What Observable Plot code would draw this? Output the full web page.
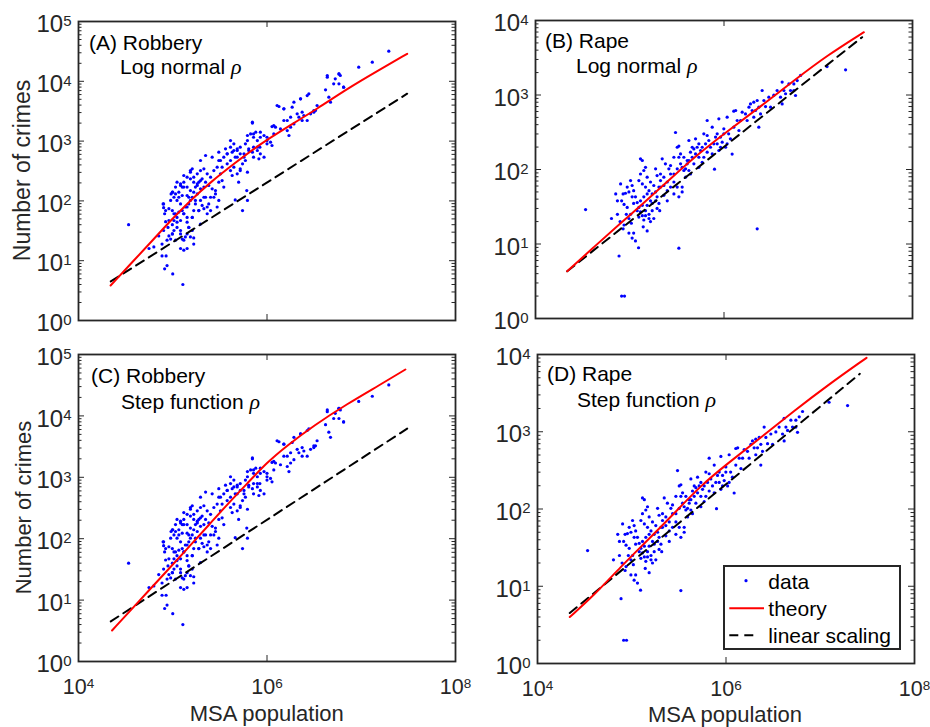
<!DOCTYPE html>
<html><head><meta charset="utf-8">
<script src="https://cdn.jsdelivr.net/npm/d3@7"></script>
<script src="https://cdn.jsdelivr.net/npm/@observablehq/plot@0.6"></script>
<style>
body{margin:0;background:#fff;}
#root{position:relative;width:930px;height:727px;overflow:hidden;}
.panel{position:absolute;}
</style></head><body><div id="root"></div>
<script>
// ---------- data ----------
const robberyPop = [3.4e4,5.6e4,6.3e4,7.1e4,8.0e4,7.9e4,8.0e4,8.2e4,8.4e4,7.7e4,8.5e4,8.7e4,8.2e4,1.0e5,1.28e5,9.1e4,9.5e4,9.9e4,1.03e5,9.9e4,8.9e4,1.21e5,1.31e5,1.26e5,1.36e5,1.42e5,1.67e5,1.61e5,1.48e5,1.21e5,1.11e5,1.03e5,1.11e5,1.21e5,1.31e5,1.42e5,1.26e5,1.16e5,1.07e5,9.9e4,9.5e4,1.03e5,1.11e5,1.21e5,1.36e5,1.48e5,1.54e5,1.61e5,1.42e5,1.26e5,1.16e5,1.0e5,9.6e4,1.07e5,1.21e5,1.31e5,1.42e5,1.54e5,1.67e5,1.82e5,1.97e5,2.05e5,2.14e5,2.32e5,2.41e5,2.23e5,1.97e5,1.82e5,1.67e5,1.54e5,1.42e5,1.31e5,1.54e5,1.61e5,1.74e5,1.89e5,2.05e5,2.23e5,2.41e5,2.62e5,2.73e5,2.96e5,3.08e5,2.84e5,2.52e5,2.32e5,2.14e5,1.97e5,1.82e5,2.73e5,2.96e5,3.21e5,3.34e5,3.48e5,3.08e5,3.21e5,3.48e5,3.78e5,4.10e5,4.27e5,4.45e5,4.83e5,5.0e5,5.2e5,5.5e5,4.6e5,4.27e5,3.78e5,3.63e5,4.10e5,4.45e5,4.83e5,5.2e5,5.7e5,5.9e5,6.2e5,6.1e5,6.2e5,5.5e5,4.6e5,4.83e5,5.2e5,5.9e5,6.4e5,7.0e5,7.2e5,7.9e5,8.2e5,8.5e5,8.4e5,7.9e5,7.2e5,6.7e5,6.2e5,7.0e5,7.6e5,8.5e5,9.3e5,1.0e6,1.09e6,1.13e6,1.18e6,1.23e6,1.13e6,1.34e6,1.51e6,1.39e6,1.64e6,1.71e6,1.78e6,1.93e6,1.93e6,2.09e6,2.18e6,2.27e6,2.36e6,2.46e6,2.67e6,2.67e6,2.90e6,3.14e6,3.27e6,4.18e6,4.36e6,4.53e6,4.72e6,5.3e6,5.8e6,6.0e6,5.8e6,6.5e6,9.4e6,1.31e7,1.96e7,1.97e5,2.62e5,3.08e5,2.23e5,9.1e4,1.11e5,1.26e5,1.48e5,1.74e5,1.89e5,1.61e5,1.42e5,1.67e5,2.14e5,2.52e5,4.10e5,7.2e5,1.0e6,1.51e6,1.78e6,3.40e6,
  8.0e4,8.4e4,9.9e4,1.07e5,1.16e5,1.21e5,1.31e5,1.54e5,1.67e5,1.82e5,1.97e5,2.14e5,2.32e5,2.52e5,2.84e5,3.08e5,3.34e5,3.78e5,4.10e5,4.45e5,4.83e5,5.2e5,5.7e5,6.2e5,6.4e5,7.0e5,7.2e5,7.9e5,8.5e5,9.3e5,1.0e6,1.18e6,1.28e6,1.51e6,1.64e6,1.85e6,2.27e6,2.36e6,2.78e6,3.14e6,4.36e6,5.1e6,5.8e6,6.5e6,
  9.1e4,1.03e5,1.11e5,1.31e5,1.42e5,1.48e5,1.61e5,1.74e5,1.89e5,1.97e5,1.21e5,1.07e5,9.9e4,1.31e5,1.54e5,8.7e4,7.7e4,1.42e5,1.67e5];
const robberyCount = [40,16,17,26,32,89,77,61,45,12,12,8.3,7.3,6.0,4.0,26,23,28,32,40,36,16,15,23,25,28,24,32,36,32,36,47,53,47,61,53,69,65,61,69,102,115,102,89,79,89,102,115,123,123,140,140,131,170,181,206,170,149,140,131,102,84,74,61,89,115,159,181,206,234,249,266,302,344,170,206,234,206,181,159,115,79,102,131,249,284,344,322,284,322,366,284,219,170,206,474,538,417,322,266,366,284,206,344,417,538,653,612,743,791,900,696,612,538,474,302,149,102,69,104,743,791,900,743,653,791,696,505,612,791,1020,1160,1320,1240,2000,1410,1410,1240,1160,959,844,1320,1710,1750,3790,3460,1600,1500,1240,1710,1940,4480,2860,2510,5090,2210,2680,2210,5780,2860,3050,3250,7200,11700,5430,4480,11000,13300,12500,9070,7980,17200,20900,31900,474,538,653,574,74,206,170,115,102,69,53,44,69,170,115,474,538,900,2210,2510,3940,
  89,69,140,131,115,193,170,322,249,193,219,115,79,69,149,474,366,612,1020,696,538,322,612,1020,696,2070,1320,792,1160,538,1020,1820,3940,3470,2210,3690,5090,3050,6170,3250,12500,9070,13300,7980,
  47,61,44,61,79,36,53,89,69,41,28,22,28,22,25,22,19,16,19];

const rapePop = [3.4e4,6.4e4,7.7e4,8.2e4,8.8e4,8.0e4,8.5e4,9.0e4,8.2e4,8.7e4,9.4e4,9.2e4,9.8e4,1.02e5,1.04e5,9.8e4,1.06e5,1.15e5,1.10e5,1.24e5,8.7e4,8.5e4,7.9e4,1.02e5,1.06e5,1.10e5,1.15e5,1.20e5,1.25e5,1.30e5,1.36e5,1.41e5,1.47e5,1.53e5,1.60e5,1.66e5,1.73e5,1.60e5,1.47e5,1.36e5,1.25e5,1.30e5,1.41e5,1.36e5,1.30e5,1.47e5,1.53e5,1.66e5,1.80e5,1.88e5,1.95e5,2.04e5,1.95e5,2.08e5,1.73e5,1.80e5,1.66e5,1.39e5,1.53e5,1.88e5,1.95e5,2.12e5,2.30e5,2.50e5,2.30e5,2.50e5,2.21e5,2.39e5,2.60e5,2.71e5,2.94e5,3.19e5,2.94e5,3.32e5,3.60e5,3.60e5,3.06e5,3.19e5,3.32e5,3.46e5,3.75e5,4.07e5,3.91e5,4.41e5,4.24e5,4.07e5,4.41e5,4.60e5,4.79e5,4.99e5,4.24e5,5.19e5,5.64e5,6.11e5,5.87e5,5.41e5,6.63e5,7.19e5,7.80e5,6.63e5,6.11e5,6.63e5,7.50e5,8.47e5,8.13e5,8.82e5,9.19e5,9.57e5,9.96e5,1.08e6,1.17e6,1.22e6,8.82e5,9.96e5,1.27e6,1.33e6,1.08e6,1.44e6,1.50e6,1.69e6,1.84e6,1.91e6,2.07e6,2.16e6,2.25e6,2.34e6,2.44e6,2.07e6,2.54e6,2.76e6,3.12e6,3.38e6,4.14e6,4.32e6,4.50e6,4.14e6,5.08e6,5.51e6,5.74e6,5.98e6,6.49e6,1.24e7,1.95e7,7.93e5,2.71e5,2.94e5,2.12e5,4.79e5,5.41e5,3.32e5,3.60e5,3.32e5,2.25e6,
  9.4e4,9.8e4,1.06e5,1.10e5,1.20e5,1.25e5,1.30e5,1.41e5,1.53e5,1.36e5,1.47e5,1.60e5,1.73e5,1.88e5,2.04e5,2.12e5,2.30e5,2.50e5,2.71e5,2.94e5,3.19e5,3.46e5,3.75e5,3.91e5,4.24e5,4.60e5,4.99e5,5.41e5,5.87e5,6.37e5,6.9e5,7.50e5,8.47e5,9.19e5,1.04e6,1.12e6,1.27e6,1.38e6,1.56e6,1.76e6,1.99e6,2.34e6,2.65e6,2.99e6,3.66e6,3.98e6,4.88e6,5.51e6,7.4e4,7.1e4,7.4e4];
const rapeCount = [29,22,6.9,2.0,2.0,64,47,48,38,34,31,25,22,25,19,14,12,11,14,8.9,18,16,20,71,61,52,43,36,31,27,24,21,28,33,25,38,47,52,58,64,71,87,97,132,139,107,79,68,61,50,43,35,30,28,28,22,20,17,15,102,83,71,61,52,45,38,139,119,102,87,68,58,47,43,50,58,314,199,206,162,146,119,102,87,97,132,171,146,119,258,245,199,180,146,125,107,171,199,221,286,301,455,370,301,272,180,199,233,301,221,258,161,479,351,607,619,504,334,455,558,687,760,801,619,844,370,558,504,1150,700,687,995,1490,1150,1040,760,1150,1410,984,1560,1830,2410,2180,101,113,146,58,189,221,146,107,8.8,16,
  58,50,43,35,28,23,38,43,47,33,24,22,35,38,58,87,79,68,58,87,102,119,97,79,132,199,162,146,199,221,245,162,221,272,199,301,370,455,588,455,619,687,844,935,1150,935,1410,1150,38,47,25];

// theory curves
const robLogNormalPop = [2.19e4,3.87e4,6.3e4,9.5e4,1.54e5,2.52e5,4.45e5,8.5e5,1.64e6,3.41e6,7.1e6,1.48e7,3.07e7];
const robLogNormalCrimes = [3.85,10.1,23,47,102,206,417,900,1710,3470,7490,14800,28800];
const robStepPop = [2.27e4,4.19e4,8.7e4,1.48e5,2.52e5,3.78e5,6.2e5,1.0e6,1.64e6,3.14e6,7.1e6,1.6e7,2.94e7];
const robStepCrimes = [3.2,8.9,30,73,180,360,800,1750,3300,6980,15700,32400,57000];
const rapeLogNormalPop = [2.17e4,4.16e4,8.0e4,1.53e5,2.94e5,5.64e5,1.08e6,2.44e6,5.51e6,1.24e7,3.05e7];
const rapeLogNormalCrimes = [4.3,9.1,19,39,83,171,324,700,1560,3390,6970];
const rapeStepPop = [2.2e4,3.96e4,7.6e4,1.46e5,2.8e5,5.4e5,1.03e6,2.32e6,5.25e6,1.19e7,3.1e7];
const rapeStepCrimes = [4.0,7.6,17.7,39,87,201,384,834,1850,3970,9060];
// linear scaling lines
const robLinearPop = [2.2e4,3.07e7];
const robLinearCrimes = [4.5,6200];
const rapeLinearPopB = [2.17e4,2.92e7];
const rapeLinearCrimesB = [4.3,5970];
const rapeLinearPopD = [2.2e4,2.63e7];
const rapeLinearCrimesD = [4.5,5620];

// ticks
const xTicks = [1e4,1e6,1e8];
const yTicksRobbery = [1,10,100,1e3,1e4,1e5];
const yTicksRape = [1,10,100,1e3,1e4];

// ---------- drawing ----------
const INK = "#262626";
const FONT = '"Liberation Sans", Arial, Helvetica, sans-serif';
const NS = "http://www.w3.org/2000/svg";

function supLabels(svg) {
  const set = (sel, base, sup) => svg.querySelectorAll(sel).forEach(t => {
    const s = t.textContent; const parts = s.split("^");
    if (parts.length !== 2) return;
    t.setAttribute("font-size", base);
    t.style.fontSize = base + "px";
    t.textContent = "";
    const a = document.createElementNS(NS, "tspan"); a.textContent = parts[0]; t.appendChild(a);
    const b = document.createElementNS(NS, "tspan"); b.textContent = parts[1];
    b.setAttribute("dy", "-0.42em"); b.setAttribute("font-size", sup); b.style.fontSize = sup + "px"; t.appendChild(b);
  });
  set('g[aria-label="y-axis tick label"] text', 24, 15);
  set('g[aria-label="x-axis tick label"] text', 21.5, 13.5);
}

function panel(o) {
  const {width, height, ml, mr, mt, mb} = o;
  const fw = width - ml - mr, fh = height - mt - mb;
  const yMinor = [];
  for (let i = 0; i < o.yTicks.length - 1; i++) for (let k = 2; k <= 9; k++) yMinor.push(o.yTicks[i] * k);
  const fmt = d => "10^" + Math.round(Math.log10(d));
  const marks = [
    Plot.dot({length: o.px.length}, {x: o.px, y: o.py, r: 1.6, fill: "#0000ff"}),
    Plot.line({length: o.lx.length}, {x: o.lx, y: o.ly, stroke: "#000", strokeWidth: 2, strokeDasharray: "9,6"}),
    Plot.line({length: o.tx.length}, {x: o.tx, y: o.ty, stroke: "#ff0000", strokeWidth: 2, curve: "basis"}),
    Plot.tickY(o.yTicks, {y: d => d, insetRight: fw - 6, stroke: INK}),
    Plot.tickY(o.yTicks, {y: d => d, insetLeft: fw - 6, stroke: INK}),
    Plot.tickY(yMinor, {y: d => d, insetRight: fw - 3.5, stroke: INK}),
    Plot.tickY(yMinor, {y: d => d, insetLeft: fw - 3.5, stroke: INK}),
    Plot.tickX(xTicks, {x: d => d, insetBottom: fh - 6, stroke: INK}),
    Plot.tickX(xTicks, {x: d => d, insetTop: fh - 6, stroke: INK}),
    Plot.frame({stroke: INK, strokeWidth: 1.8}),
    Plot.axisY({ticks: o.yTicks, tickSize: 0, tickPadding: 7, tickFormat: fmt, fontSize: 24, label: null, dy: 3, color: INK})
  ];
  if (o.showX) marks.push(Plot.axisX({ticks: xTicks, tickSize: 0, tickPadding: 17, tickFormat: fmt, fontSize: 21.5, label: null, color: INK}));
  const svg = Plot.plot({
    width, height, marginLeft: ml, marginRight: mr, marginTop: mt, marginBottom: mb,
    style: {fontFamily: FONT, color: INK, background: "transparent", overflow: "visible"},
    x: {type: "log", domain: [1e4, 1e8], ...(o.showX ? {} : {axis: null})},
    y: {type: "log", domain: [o.yTicks[0], o.yTicks[o.yTicks.length - 1]]},
    marks
  });
  supLabels(svg);
  const s = d3.select(svg);
  const txt = (sel) => sel.attr("font-family", FONT).attr("text-anchor", "start").style("font-size", "21px");
  txt(s.append("text").attr("x", o.ann[0]).attr("y", o.ann[1]).attr("fill", "#000").text(o.title));
  const t2 = txt(s.append("text").attr("x", o.ann[2]).attr("y", o.ann[3]).attr("fill", "#000"));
  t2.append("tspan").text(o.sub + " ");
  t2.append("tspan").attr("font-family", '"Liberation Serif", "DejaVu Serif", serif').attr("font-style", "italic").style("font-size", "22px").text("ρ");
  if (o.ylab) {
    s.append("text").attr("transform", `translate(${o.ylab[0]},${o.ylab[1]}) rotate(-90)`).attr("text-anchor", "middle")
      .style("font-size", o.ylab[2] + "px").attr("font-family", FONT).attr("fill", INK).text("Number of crimes");
  }
  if (o.xlab) {
    s.append("text").attr("x", o.xlab[0]).attr("y", o.xlab[1]).attr("text-anchor", "middle")
      .style("font-size", "22px").attr("font-family", FONT).attr("fill", INK).text("MSA population");
  }
  const div = document.createElement("div");
  div.className = "panel"; div.style.left = o.left + "px"; div.style.top = o.top + "px";
  div.appendChild(svg);
  document.getElementById("root").appendChild(div);
  return s;
}

panel({left: 0, top: 0, width: 465, height: 340, ml: 78, mr: 10, mt: 21, mb: 20,
  yTicks: yTicksRobbery, px: robberyPop, py: robberyCount,
  tx: robLogNormalPop, ty: robLogNormalCrimes, lx: robLinearPop, ly: robLinearCrimes,
  title: "(A) Robbery", sub: "Log normal", ann: [89, 50, 120, 74], ylab: [30, 170.5, 23]});

panel({left: 460, top: 0, width: 465, height: 340, ml: 75, mr: 13, mt: 20, mb: 22,
  yTicks: yTicksRape, px: rapePop, py: rapeCount,
  tx: rapeLogNormalPop, ty: rapeLogNormalCrimes, lx: rapeLinearPopB, ly: rapeLinearCrimesB,
  title: "(B) Rape", sub: "Log normal", ann: [85, 48, 116, 73]});

panel({left: 0, top: 340, width: 465, height: 387, ml: 78, mr: 10, mt: 14, mb: 66, showX: true,
  yTicks: yTicksRobbery, px: robberyPop, py: robberyCount,
  tx: robStepPop, ty: robStepCrimes, lx: robLinearPop, ly: robLinearCrimes,
  title: "(C) Robbery", sub: "Step function", ann: [91, 43, 121, 69], ylab: [31, 167.5, 22], xlab: [266.7, 381]});

const sD = panel({left: 460, top: 340, width: 470, height: 387, ml: 77, mr: 16, mt: 14, mb: 64, showX: true,
  yTicks: yTicksRape, px: rapePop, py: rapeCount,
  tx: rapeStepPop, ty: rapeStepCrimes, lx: rapeLinearPopD, ly: rapeLinearCrimesD,
  title: "(D) Rape", sub: "Step function", ann: [87, 41, 117, 67], xlab: [265, 382]});

// legend (panel D)
const lg = sD.append("g");
lg.append("rect").attr("x", 264).attr("y", 226).attr("width", 176).attr("height", 83).attr("fill", "#fff").attr("stroke", INK).attr("stroke-width", 2);
lg.append("circle").attr("cx", 286).attr("cy", 240.7).attr("r", 1.6).attr("fill", "#0000ff");
lg.append("line").attr("x1", 269.3).attr("x2", 304).attr("y1", 268.3).attr("y2", 268.3).attr("stroke", "#ff0000").attr("stroke-width", 2);
lg.append("line").attr("x1", 269.3).attr("x2", 297.3).attr("y1", 295.3).attr("y2", 295.3).attr("stroke", "#000").attr("stroke-width", 2).attr("stroke-dasharray", "9,6");
[["data", 249], ["theory", 276], ["linear scaling", 302.7]].forEach(([t, y]) => {
  lg.append("text").attr("x", 308.3).attr("y", y).attr("text-anchor", "start").style("font-size", "21px").attr("font-family", FONT).attr("fill", "#000").text(t);
});
</script></body></html>
